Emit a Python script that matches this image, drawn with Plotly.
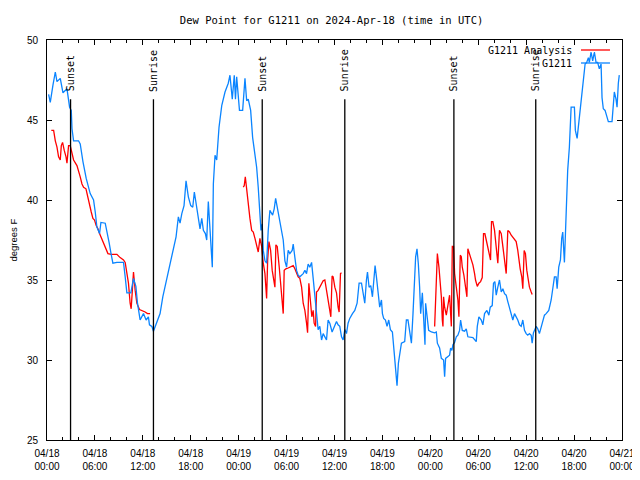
import plotly.graph_objects as go
import pandas as pd

START = pd.Timestamp("2024-04-18 00:00")

# Station observations (blue): hours since 2024-04-18 00:00 UTC, dew point degF
blue_hours = [0.20, 0.41, 0.75, 1.04, 1.25, 1.66, 2.0, 2.5, 2.83, 3.04, 3.13, 3.33, 3.95, 4.16, 4.5, 4.91,
              5.41, 5.83, 6.04, 6.25, 6.58, 6.75, 7.29, 7.5, 7.79, 8.0, 8.25, 8.75, 9.58, 9.79, 10.0, 10.5,
              10.83, 11.13, 11.33, 11.66, 12.08, 12.41, 12.7, 12.83, 13.13, 13.33, 13.75, 14.16, 14.5, 14.79,
              15.13, 15.5, 15.83, 16.16, 16.45, 16.66, 16.88, 17.16, 17.41, 17.7, 18.0, 18.25, 18.45, 18.66,
              18.95, 19.16, 19.38, 19.58, 19.83, 20.0, 20.2, 20.5, 20.7, 20.83, 21.04, 21.25, 21.54, 21.88,
              22.29, 22.7, 22.91, 23.2, 23.45, 23.6, 23.75, 24.1, 24.5, 24.79, 25.0, 25.2, 25.5, 25.75, 26.04,
              26.25, 26.45, 26.66, 26.79, 26.95, 27.08, 27.29, 27.5, 27.7, 27.91, 28.25, 28.45, 28.63, 28.95,
              29.16, 29.38, 29.58, 29.79, 30.0, 30.2, 30.41, 30.7, 30.83, 31.04, 31.25, 31.45, 31.66, 32.08,
              32.29, 32.5, 32.7, 32.91, 33.13, 33.33, 33.54, 33.75, 33.95, 34.16, 34.38, 34.58, 34.79, 35.0,
              35.2, 35.41, 35.7, 36.04, 36.25, 36.45, 36.66, 36.88, 37.08, 37.29, 37.5, 37.7, 37.91, 38.25,
              38.54, 38.83, 39.08, 39.38, 39.58, 39.79, 40.0, 40.13, 40.33, 40.54, 40.75, 40.91, 41.08, 41.25,
              41.45, 41.66, 41.88, 42.0, 42.16, 42.38, 42.58, 42.79, 43.0, 43.25, 43.45, 43.63, 43.83, 44.0,
              44.16, 44.38, 44.79, 45.0, 45.2, 45.41, 45.63, 45.83, 45.95, 46.16, 46.33, 46.5, 46.66, 46.79,
              47.0, 47.16, 47.33, 47.41, 47.58, 47.79, 48.13, 48.54, 48.75, 48.88, 49.16, 49.38, 49.66, 49.79,
              49.91, 50.2, 50.41, 50.54, 50.7, 50.83, 51.04, 51.25, 51.45, 51.66, 51.79, 52.0, 52.29, 52.5,
              52.7, 53.33, 53.75, 53.88, 54.08, 54.38, 54.58, 54.79, 55.08, 55.33, 55.5, 55.75, 55.91, 56.08,
              56.25, 56.45, 56.66, 56.88, 57.08, 57.29, 57.5, 57.7, 57.91, 58.13, 58.33, 58.54, 58.75, 58.95,
              59.16, 59.38, 59.58, 59.79, 60.0, 60.2, 60.41, 60.63, 60.75, 60.91, 61.25, 61.45, 61.66, 61.88,
              62.08, 62.29, 62.5, 62.83, 63.13, 63.33, 63.54, 63.75, 63.88, 64.08, 64.29, 64.45, 64.58, 64.79,
              64.91, 65.08, 65.2, 65.41, 65.63, 66.04, 66.16, 66.38, 66.54, 66.75, 66.95, 67.16, 67.38, 67.58,
              67.79, 67.91, 68.13, 68.33, 68.54, 68.75, 68.95, 69.16, 69.38, 69.5, 69.66, 69.88, 70.08, 70.29,
              70.75, 70.91, 71.04, 71.25, 71.38, 71.54, 71.66]
blue_values = [46.6, 46.1, 47.2, 48.0, 47.4, 47.6, 46.7, 46.95, 45.8, 45.6, 44.45, 43.7, 43.7, 43.5, 42.4, 41.35,
               40.4, 40.0, 39.25, 38.3, 37.9, 38.6, 38.55, 37.9, 37.3, 36.7, 36.05, 36.1, 36.1, 35.2, 34.2, 34.2,
               35.1, 34.6, 33.55, 32.5, 32.9, 32.5, 32.7, 32.2, 32.1, 31.8, 32.3, 32.9, 33.95, 34.6,
               35.4, 36.05, 36.85, 37.7, 38.95, 38.55, 39.15, 39.65, 41.2, 40.2, 39.65, 39.55, 40.5, 39.8,
               38.7, 38.2, 38.85, 38.1, 37.9, 37.5, 39.9, 37.5, 35.8, 41.0, 42.8, 42.5, 44.55, 45.9,
               46.75, 47.3, 47.8, 46.3, 47.8, 46.3, 47.7, 45.6, 45.6, 47.6, 46.2, 46.3, 45.6, 43.9, 42.7,
               42.05, 40.8, 38.7, 38.1, 38.5, 36.85, 36.2, 36.05, 38.1, 39.35, 39.05, 39.45, 40.1, 39.25,
               38.55, 37.9, 37.5, 36.2, 35.8, 36.85, 36.65, 36.85, 37.25, 36.4, 35.6, 35.3, 35.2, 35.4,
               35.6, 35.4, 36.0, 35.8, 36.1, 35.1, 33.95, 32.5, 31.9, 32.1, 31.25, 31.65, 31.45, 31.25,
               32.5, 32.3, 31.75, 32.1, 32.4, 32.2, 32.1, 31.45, 31.25, 31.9, 31.65, 32.3, 32.6, 32.9,
               33.1, 33.55, 34.8, 34.8, 34.2, 33.55, 35.0, 35.5, 34.55, 34.65, 33.95, 34.8, 35.9, 35.2,
               34.35, 33.3, 33.75, 32.9, 32.6, 32.5, 32.1, 32.5, 31.9, 31.75, 30.6, 29.55, 28.4, 29.8,
               30.4, 31.05, 31.15, 32.5, 32.5, 31.75, 31.05, 32.9, 34.55, 36.45, 36.95, 36.0, 34.55, 32.9,
               34.2, 32.9, 30.95, 33.55, 32.7, 31.85, 31.75, 31.7, 31.75, 31.05, 30.75, 30.1, 30.0, 28.95,
               30.1, 30.25, 30.3, 30.75, 30.6, 30.95, 31.1, 31.45, 31.55, 31.85, 32.5, 31.85, 31.8, 31.95,
               31.45, 31.4, 31.15, 32.1, 32.7, 32.5, 32.2, 32.9, 33.1, 32.8, 33.3, 33.4, 34.8, 34.9,
               34.05, 34.55, 35.0, 34.25, 34.45, 34.15, 34.05, 33.65, 33.3, 32.9, 32.5, 32.9, 32.7, 32.5,
               32.2, 32.1, 32.5, 31.85, 31.65, 31.55, 31.65, 31.55, 31.05, 31.7, 32.1, 31.95, 31.65, 32.1,
               32.5, 32.8, 32.9, 33.1, 33.75, 34.35, 35.2, 35.2, 34.45, 35.8, 36.25, 37.6, 38.0, 36.1,
               38.1, 40.9, 41.85, 43.3, 45.8, 45.8, 44.35, 43.85, 44.55, 45.6, 46.65, 47.5, 48.5, 48.6,
               48.9, 48.6, 49.25, 48.7, 49.25, 48.6, 48.6, 48.2, 48.5, 46.4, 45.7, 45.6, 45.2, 44.9,
               44.9, 45.8, 46.75, 46.3, 45.8, 47.3, 47.8]

# Analysis (red): three night-time segments, gaps marked by None
red_hours = [0.54, 0.83, 1.04, 1.25, 1.45, 1.66, 1.79, 1.95, 2.16, 2.38, 2.5, 2.7, 2.91, 3.13, 3.33, 3.75,
             3.95, 4.16, 4.38, 4.58, 4.88, 5.08, 5.33, 5.54, 5.75, 5.95, 6.16, 6.38, 6.58, 6.79, 7.08, 7.38,
             7.63, 8.04, 8.75, 9.16, 9.58, 9.79, 10.0, 10.2, 10.41, 10.54, 10.66, 10.83, 11.04, 11.25, 11.58,
             11.88, 12.29, 12.58, 12.91, None,
             24.58, 24.7, 24.83, 25.0, 25.2, 25.41, 25.63, 25.83, 26.04, 26.25, 26.45, 26.66, 26.88, 27.08,
             27.29, 27.5, 27.63, 27.79, 28.0, 28.2, 28.41, 28.54, 28.66, 28.83, 29.08, 29.25, 29.45, 29.58,
             29.7, 29.91, 30.2, 30.63, 30.83, 31.04, 31.25, 31.45, 31.66, 31.88, 32.08, 32.29, 32.5, 32.63,
             32.79, 32.91, 33.04, 33.16, 33.33, 33.45, 33.63, 33.75, 33.95, 34.16, 34.38, 34.58, 34.79, 35.0,
             35.2, 35.41, 35.54, 35.7, 35.83, 36.04, 36.25, 36.45, 36.58, 36.75, 36.88, None,
             48.54, 48.75, 48.88, 49.08, 49.25, 49.38, 49.5, 49.58, 49.66, 49.79, 50.0, 50.2, 50.41, 50.63,
             50.75, 50.91, 51.04, 51.25, 51.45, 51.58, 51.75, 51.88, 52.0, 52.2, 52.41, 52.58, 52.7, 52.91,
             53.13, 53.33, 53.54, 53.66, 53.88, 54.08, 54.29, 54.5, 54.66, 54.83, 55.0, 55.2, 55.41, 55.54,
             55.66, 55.83, 56.04, 56.25, 56.45, 56.66, 56.88, 57.08, 57.29, 57.5, 57.7, 57.91, 58.13, 58.33,
             58.54, 58.75, 58.95, 59.08, 59.25, 59.45, 59.58, 59.75, 59.91, 60.08, 60.2, 60.41, 60.63, 60.75]
red_values = [44.35, 44.35, 43.7, 43.3, 42.7, 42.5, 43.4, 43.6, 43.1, 42.7, 42.3, 43.4, 43.4, 42.9, 42.5, 42.15,
              41.85, 41.45, 41.0, 40.8, 40.7, 40.2, 39.8, 39.25, 38.85, 38.75, 38.4, 38.2, 37.9, 37.65, 37.3, 36.95,
              36.65, 36.6, 36.6, 36.4, 36.25, 36.1, 35.3, 34.8, 33.55, 33.2, 34.15, 35.5, 34.35, 33.55, 33.15,
              33.1, 33.0, 32.9, 32.9, None,
              40.8, 40.9, 41.45, 40.6, 40.0, 38.85, 38.1, 38.0, 37.6, 37.1, 36.75, 37.6, 37.1, 36.05,
              35.4, 33.85, 36.25, 37.4, 36.85, 35.6, 34.8, 34.55, 37.2, 37.1, 35.8, 34.8, 33.55, 32.9,
              35.6, 35.7, 35.75, 35.85, 35.9, 35.7, 35.4, 35.2, 35.1, 34.55, 33.55, 33.1, 32.3, 31.7,
              34.8, 34.2, 33.1, 32.7, 33.1, 32.3, 32.1, 34.25, 34.35, 34.55, 34.8, 34.95, 35.0, 34.35,
              33.75, 32.9, 32.7, 35.25, 35.2, 34.55, 34.2, 33.3, 33.0, 35.4, 35.45, None,
              32.1, 34.35, 36.65, 35.8, 34.8, 33.95, 32.5, 32.1, 33.95, 33.3, 32.8, 33.3, 34.05, 32.1,
              37.1, 37.1, 35.4, 34.55, 33.75, 32.7, 36.55, 36.45, 35.8, 35.3, 34.65, 33.95, 36.95, 36.65,
              36.25, 35.95, 35.4, 35.0, 34.6, 34.8, 34.9, 35.15, 37.9, 37.9, 37.5, 37.1, 36.55, 36.25,
              38.65, 38.65, 38.1, 37.1, 36.05, 38.1, 37.9, 37.1, 36.35, 35.4, 38.1, 38.0, 37.8, 37.65,
              37.5, 37.4, 36.85, 36.25, 35.7, 35.2, 34.45, 36.85, 36.65, 35.6, 35.1, 34.55, 34.25, 34.1]

# Sun events (hours since start)
sun_hours = [2.95, 13.33, 26.95, 37.29, 50.95, 61.2]
sun_labels = ["Sunset", "Sunrise", "Sunset", "Sunrise", "Sunset", "Sunrise"]

y_ticks = [25, 30, 35, 40, 45, 50]


def to_time(hours):
    return [None if h is None else START + pd.Timedelta(hours=h) for h in hours]


BLUE = "#0a84ff"
RED = "#ff0000"
FONT = "DejaVu Sans Mono"
TICKFONT = "Liberation Sans"

fig = go.Figure()
fig.add_trace(go.Scatter(x=to_time(red_hours), y=red_values, mode="lines", name="G1211 Analysis",
                         line=dict(color=RED, width=1.3), connectgaps=False, showlegend=False))
fig.add_trace(go.Scatter(x=to_time(blue_hours), y=blue_values, mode="lines", name="G1211",
                         line=dict(color=BLUE, width=1.3), showlegend=False))

for h, lab in zip(sun_hours, sun_labels):
    t = START + pd.Timedelta(hours=h)
    fig.add_shape(type="line", xref="x", yref="y", x0=t, x1=t, y0=25, y1=46.3,
                  line=dict(color="black", width=1.3))
    fig.add_annotation(x=t, y=46.65, xref="x", yref="y", text=lab, textangle=-90,
                       showarrow=False, xanchor="center", yanchor="bottom",
                       font=dict(family=FONT, size=10, color="black"))

# manual legend (text left of sample line, like the original)
legend_items = [("G1211 Analysis", RED, 0.975), ("G1211", BLUE, 0.9425)]
for name, col, yy in legend_items:
    fig.add_annotation(x=0.9165, y=yy, xref="paper", yref="paper", text=name, showarrow=False,
                       xanchor="right", yanchor="middle", font=dict(family=FONT, size=10, color="black"))
    fig.add_shape(type="line", xref="paper", yref="paper", x0=0.9287, x1=0.9791, y0=yy, y1=yy,
                  line=dict(color=col, width=1.3))

fig.add_annotation(x=-0.0583, y=0.5, xref="paper", yref="paper", text="degrees F", textangle=-90,
                   showarrow=False, xanchor="center", yanchor="middle",
                   font=dict(family=TICKFONT, size=9.5, color="black"))

# the page adds an 8px body margin, so the figure is sized to fit the 640x480 window
fig.update_layout(
    width=632, height=472,
    margin=dict(l=39, r=18, t=32, b=40, autoexpand=False),
    paper_bgcolor="white", plot_bgcolor="white",
    title=dict(text="Dew Point for G1211 on 2024-Apr-18 (time in UTC)", x=0.512, xanchor="center",
               y=0.9735, yanchor="middle", font=dict(family=FONT, size=10.5, color="black")),
    font=dict(family=TICKFONT, size=10, color="black"),
)
fig.update_xaxes(
    type="date", range=[START, START + pd.Timedelta(hours=72)], automargin=False,
    dtick=6 * 3600 * 1000, tick0=START, tickformat="%m/%d<br>%H:%M",
    ticks="inside", ticklen=5, tickcolor="black", tickwidth=1,
    minor=dict(dtick=2 * 3600 * 1000, tick0=START, ticks="inside", ticklen=3, tickcolor="black"),
    showline=True, linecolor="black", linewidth=1, mirror="allticks",
    showgrid=False, zeroline=False, tickfont=dict(family=TICKFONT, size=10), ticklabelstandoff=4,
)
fig.update_yaxes(
    range=[25, 50], tickvals=y_ticks, ticktext=[str(v) for v in y_ticks], automargin=False,
    ticks="inside", ticklen=5, tickcolor="black", tickwidth=1,
    showline=True, linecolor="black", linewidth=1, mirror="allticks",
    showgrid=False, zeroline=False, tickfont=dict(family=TICKFONT, size=10), ticklabelstandoff=6,
)

fig.write_html("out.html")
